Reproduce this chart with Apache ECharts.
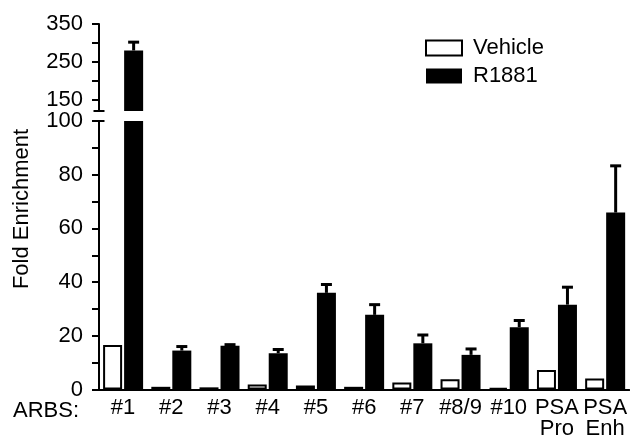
<!DOCTYPE html>
<html><head><meta charset="utf-8">
<script src="https://cdn.jsdelivr.net/npm/echarts@6/dist/echarts.min.js"></script>
<style>html,body{margin:0;padding:0;background:#fff}#c{width:630px;height:444px}</style>
</head><body><div id="c"></div>
<script>
const categories = ['#1','#2','#3','#4','#5','#6','#7','#8/9','#10','PSA\nPro','PSA\nEnh'];
const vehicle = [16.6,1.0,0.8,1.9,1.5,1.0,2.6,3.8,0.6,7.3,4.1];
const r1881 = [280,14.5,16.3,13.5,36.0,27.8,17.2,12.9,23.2,31.6,65.9];
const r1881Err = [22,1.5,0.4,1.4,3.1,3.8,3.1,2.2,2.5,6.5,17.4];
const upperTicks = [150,200,250,300,350];
const upperLabels = [150,250,350];
const lowerTicks = [0,10,20,30,40,50,60,70,80,90,100];
const lowerLabels = [0,20,40,60,80,100];
const BREAK_LOW = 100, BREAK_HIGH = 120;

const FONT = 'Liberation Sans';
const BAR_W = 19, GAP_PX = 2;
const OFFSET = (BAR_W + GAP_PX) / 2;

function errRender(params, api) {
  const idx = api.value(0), val = api.value(1), err = api.value(2);
  const base = api.coord([idx, val]);
  const top = api.coord([idx, val + err]);
  const x = base[0] + OFFSET;
  return {type:'group', children:[
    {type:'line', shape:{x1:x, y1:base[1], x2:x, y2:top[1]}, style:{stroke:'#000', lineWidth:3}},
    {type:'line', shape:{x1:x-5.5, y1:top[1], x2:x+5.5, y2:top[1]}, style:{stroke:'#000', lineWidth:3}}
  ]};
}

const errLower = r1881.map((v,i)=> v <= BREAK_LOW ? [i, v, r1881Err[i]] : null).filter(Boolean);
const errUpper = r1881.map((v,i)=> v > BREAK_HIGH ? [i, v, r1881Err[i]] : null).filter(Boolean);

const chart = echarts.init(document.getElementById('c'));
const vehStyle = {color:'#fff', borderColor:'#000', borderWidth:2};
const rStyle = {color:'#000'};
const gap = (GAP_PX / BAR_W * 100) + '%';

chart.setOption({
  animation:false,
  textStyle:{fontFamily:FONT},
  legend:{
    data:['Vehicle','R1881'], orient:'vertical', left:420, top:32, icon:'rect',
    itemWidth:36, itemHeight:15, itemGap:6,
    textStyle:{fontSize:22, color:'#000', fontFamily:FONT, padding:[0,0,0,6]}
  },
  grid:[
    {left:99, width:534, top:24, height:87},
    {left:99, width:534, top:121, height:268.5}
  ],
  xAxis:[
    {type:'category', gridIndex:0, data:categories, show:false},
    {type:'category', gridIndex:1, data:categories,
     axisLine:{lineStyle:{color:'#000', width:2}},
     axisTick:{show:false},
     axisLabel:{interval:0, fontSize:22, color:'#000', margin:8, lineHeight:21, fontFamily:FONT}}
  ],
  yAxis:[
    {type:'value', gridIndex:0, min:BREAK_HIGH, max:350,
     axisLine:{show:true, symbol:['rect','none'], symbolSize:[11,2], lineStyle:{color:'#000', width:2}},
     axisTick:{show:true, customValues:upperTicks, length:7, lineStyle:{color:'#000', width:2}},
     axisLabel:{customValues:upperLabels, fontSize:22, color:'#000', margin:16, fontFamily:FONT},
     splitLine:{show:false}},
    {type:'value', gridIndex:1, min:0, max:BREAK_LOW,
     axisLine:{show:true, symbol:['none','rect'], symbolSize:[11,2], lineStyle:{color:'#000', width:2}},
     axisTick:{show:true, customValues:lowerTicks, length:7, lineStyle:{color:'#000', width:2}},
     axisLabel:{customValues:lowerLabels, fontSize:22, color:'#000', margin:16, fontFamily:FONT},
     splitLine:{show:false}}
  ],
  graphic:[
    {type:'text', x:22, y:209, rotation:Math.PI/2,
     style:{text:'Fold Enrichment', font:'22px "Liberation Sans"', fill:'#000', textAlign:'center', textVerticalAlign:'middle'}},
    {type:'text', x:79, y:411,
     style:{text:'ARBS:', font:'22px "Liberation Sans"', fill:'#000', textAlign:'right', textVerticalAlign:'middle'}}
  ],
  series:[
    {name:'Vehicle', type:'bar', xAxisIndex:1, yAxisIndex:1, data:vehicle, barWidth:BAR_W, barGap:gap, itemStyle:vehStyle},
    {name:'R1881', type:'bar', xAxisIndex:1, yAxisIndex:1, data:r1881, barWidth:BAR_W, barGap:gap, itemStyle:rStyle, clip:true},
    {name:'Vehicle', type:'bar', xAxisIndex:0, yAxisIndex:0, data:vehicle.map(v=> v > BREAK_HIGH ? v : '-'), barWidth:BAR_W, barGap:gap, itemStyle:vehStyle},
    {name:'R1881', type:'bar', xAxisIndex:0, yAxisIndex:0, data:r1881.map(v=> v > BREAK_HIGH ? v : '-'), barWidth:BAR_W, barGap:gap, itemStyle:rStyle, clip:true},
    {name:'R1881', type:'custom', xAxisIndex:1, yAxisIndex:1, data:errLower, renderItem:errRender, encode:{x:0,y:1}, z:3},
    {name:'R1881', type:'custom', xAxisIndex:0, yAxisIndex:0, data:errUpper, renderItem:errRender, encode:{x:0,y:1}, z:3}
  ]
});
</script></body></html>
